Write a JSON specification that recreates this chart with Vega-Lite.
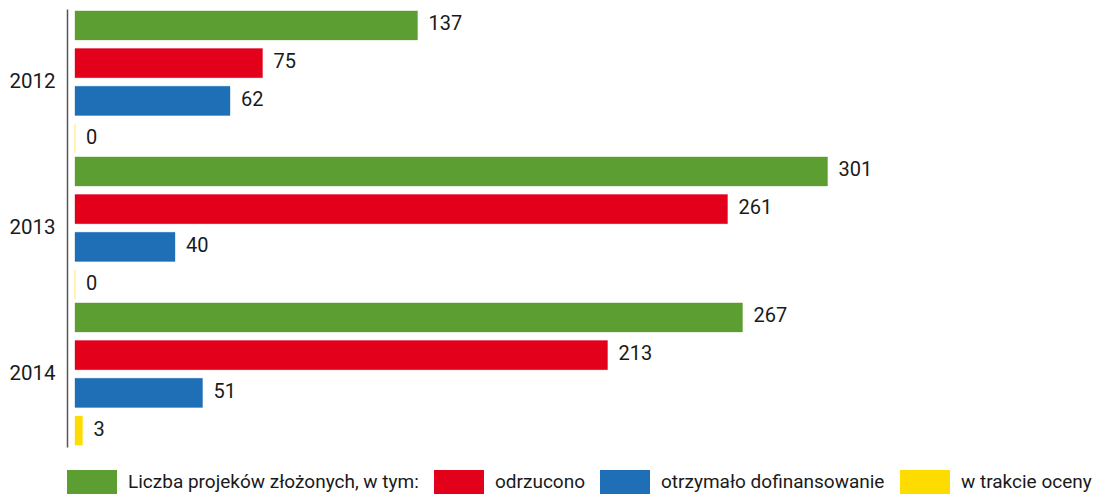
{
  "$schema": "https://vega.github.io/schema/vega-lite/v6.json",
  "autosize": "none",
  "padding": {"left": 75, "top": 9, "right": 4, "bottom": 48},
  "width": 1030,
  "height": 438,
  "background": "white",
  "config": {
    "view": {"stroke": null},
    "font": "Roboto",
    "text": {"font": "Roboto"}
  },
  "data": {
    "values": [
      {"rok": "2012", "seria": "Liczba projeków złożonych, w tym:", "wartosc": 137},
      {"rok": "2012", "seria": "odrzucono", "wartosc": 75},
      {"rok": "2012", "seria": "otrzymało dofinansowanie", "wartosc": 62},
      {"rok": "2012", "seria": "w trakcie oceny", "wartosc": 0},
      {"rok": "2013", "seria": "Liczba projeków złożonych, w tym:", "wartosc": 301},
      {"rok": "2013", "seria": "odrzucono", "wartosc": 261},
      {"rok": "2013", "seria": "otrzymało dofinansowanie", "wartosc": 40},
      {"rok": "2013", "seria": "w trakcie oceny", "wartosc": 0},
      {"rok": "2014", "seria": "Liczba projeków złożonych, w tym:", "wartosc": 267},
      {"rok": "2014", "seria": "odrzucono", "wartosc": 213},
      {"rok": "2014", "seria": "otrzymało dofinansowanie", "wartosc": 51},
      {"rok": "2014", "seria": "w trakcie oceny", "wartosc": 3}
    ]
  },
  "encoding": {
    "y": {
      "field": "rok", "type": "nominal",
      "scale": {"paddingInner": 0, "paddingOuter": 0},
      "axis": {
        "title": null, "domain": true, "domainColor": "#555555", "domainWidth": 1.5,
        "ticks": false, "tickSize": 0, "labelPadding": 12, "offset": 8,
        "labelFontSize": 20.5, "labelColor": "#1a1a1a", "labelFont": "Roboto", "grid": false,
        "encode": {"labels": {"update": {"dy": {"signal": "datum.value == '2013' ? 8 : (datum.value == '2014' ? 6 : 0)"}}}}
      }
    },
    "yOffset": {
      "field": "seria", "type": "nominal",
      "sort": ["Liczba projeków złożonych, w tym:", "odrzucono", "otrzymało dofinansowanie", "w trakcie oceny"],
      "scale": {"paddingInner": 0.23, "paddingOuter": 0.05}
    },
    "x": {
      "field": "wartosc", "type": "quantitative",
      "scale": {"domain": [0, 412], "nice": false},
      "axis": null
    }
  },
  "layer": [
    {
      "mark": {"type": "bar", "strokeWidth": 1, "strokeOpacity": 0.35},
      "encoding": {
        "color": {
          "field": "seria", "type": "nominal",
          "sort": ["Liczba projeków złożonych, w tym:", "odrzucono", "otrzymało dofinansowanie", "w trakcie oceny"],
          "scale": {
            "domain": ["Liczba projeków złożonych, w tym:", "odrzucono", "otrzymało dofinansowanie", "w trakcie oceny"],
            "range": ["#5c9e32", "#e2001a", "#1f6fb6", "#ffdc00"]
          },
          "legend": {
            "title": null,
            "orient": "none",
            "legendX": -8,
            "legendY": 448,
            "direction": "horizontal",
            "padding": 0,
            "symbolType": "M-1,-0.48H1V0.48H-1Z",
            "symbolSize": 2500,
            "symbolStrokeWidth": 0,
            "symbolOpacity": 1,
            "labelFontSize": 19,
            "labelFont": "Roboto",
            "labelColor": "#1a1a1a",
            "labelOffset": 11,
            "columnPadding": 15,
            "labelLimit": 400
          }
        },
        "stroke": {
          "field": "seria", "type": "nominal",
          "scale": {
            "domain": ["Liczba projeków złożonych, w tym:", "odrzucono", "otrzymało dofinansowanie", "w trakcie oceny"],
            "range": ["#5c9e32", "#e2001a", "#1f6fb6", "#ffdc00"]
          },
          "legend": null
        }
      }
    },
    {
      "mark": {"type": "text", "align": "left", "baseline": "middle", "dx": 11, "dy": -1, "fontSize": 20, "color": "#1a1a1a", "font": "Roboto"},
      "encoding": {
        "text": {"field": "wartosc", "type": "quantitative"}
      }
    }
  ]
}
